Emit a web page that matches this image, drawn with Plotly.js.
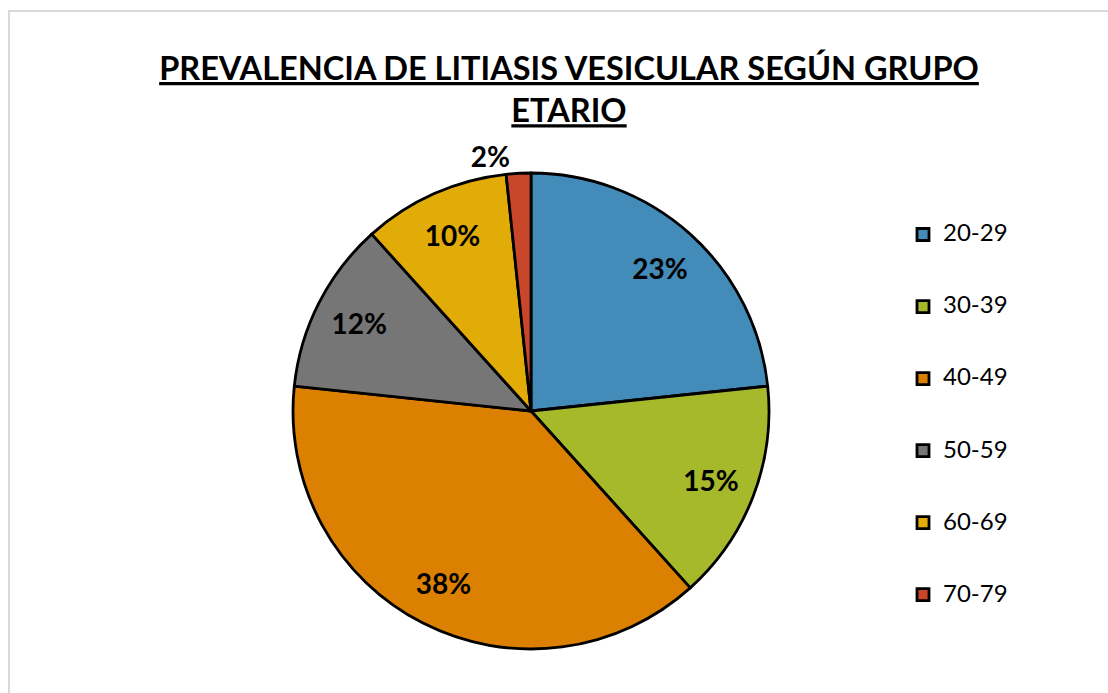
<!DOCTYPE html>
<html>
<head>
<meta charset="utf-8">
<script src="https://cdn.plot.ly/plotly-3.0.1.min.js"></script>
<style>
  html, body { margin: 0; padding: 0; background: #fff; }
  #wrap { position: relative; width: 1108px; height: 693px; }
  #chart { width: 1108px; height: 693px; }
  #frame { position: absolute; left: 8px; top: 10px; width: 1100px; height: 683px;
           border-top: 2px solid #d9d9d9; border-left: 2px solid #d9d9d9; box-sizing: border-box; pointer-events: none; }
</style>
</head>
<body>
<div id="wrap">
  <div id="chart"></div>
  <div id="frame"></div>
</div>
<script>
// Data
const categories = ['20-29', '30-39', '40-49', '50-59', '60-69', '70-79'];
const counts = [14, 9, 23, 7, 6, 1];
const colors = ['#438BB8', '#A6B92B', '#DB8000', '#767676', '#E1AB08', '#C8472A'];
const titleText = 'PREVALENCIA DE LITIASIS VESICULAR SEGÚN GRUPO<br>ETARIO';

const legendLabels = categories.map(c => '&nbsp;<br><span style="font-size:24px">' + c + '</span><br>&nbsp;');

const W = 1108, H = 693;
const cx = 531, cy = 411, r = 238;
const pieDomain = { x: [(cx - r) / W, (cx + r) / W], y: [1 - (cy + r) / H, 1 - (cy - r) / H] };
const labelFont = { family: 'Lato, sans-serif', size: 28, weight: 'bold', color: '#000000' };

// Solid pie with slices and legend
const pie = {
  type: 'pie',
  labels: legendLabels,
  values: counts,
  sort: false,
  direction: 'clockwise',
  rotation: 0,
  marker: { colors: colors, line: { color: '#000000', width: 2.8 } },
  textinfo: 'none',
  hoverinfo: 'none',
  domain: pieDomain
};

// Transparent ring on top, only used to place the percentage labels further out
const labelsRing = {
  type: 'pie',
  labels: legendLabels,
  values: counts,
  sort: false,
  direction: 'clockwise',
  rotation: 0,
  hole: 0.62,
  showlegend: false,
  marker: { colors: categories.map(() => 'rgba(0,0,0,0)'), line: { color: 'rgba(0,0,0,0)', width: 0 } },
  texttemplate: '%{percent:.0%}',
  textposition: 'auto',
  insidetextorientation: 'horizontal',
  textfont: labelFont,
  insidetextfont: labelFont,
  outsidetextfont: labelFont,
  hoverinfo: 'none',
  domain: pieDomain
};

const layout = {
  width: W, height: H,
  margin: { l: 0, r: 0, t: 0, b: 0 },
  paper_bgcolor: '#ffffff',
  showlegend: true,
  title: {
    text: '<u>' + titleText.replace('<br>', '</u><br><u>') + '</u>',
    font: { family: 'Lato, sans-serif', size: 32.5, weight: 'bold', color: '#000000' },
    x: 569 / W, xanchor: 'center',
    y: 1 - 80 / H, yanchor: 'top', yref: 'container'
  },
  legend: {
    x: 903 / W, xanchor: 'left',
    y: 1 - 193.5 / H, yanchor: 'top',
    font: { family: 'Lato, sans-serif', size: 17.7, color: '#000000' },
    bgcolor: 'rgba(0,0,0,0)'
  }
};

Plotly.newPlot('chart', [pie, labelsRing], layout, { displayModeBar: false, staticPlot: true });
</script>
</body>
</html>
